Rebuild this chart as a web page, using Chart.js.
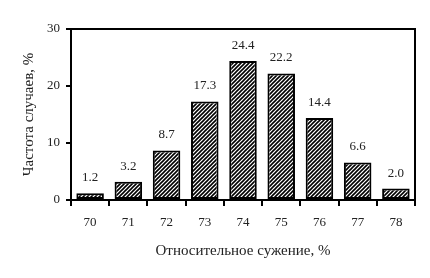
<!DOCTYPE html>
<html><head><meta charset="utf-8">
<script src="https://cdn.jsdelivr.net/npm/chart.js@4"></script>
<style>html,body{margin:0;padding:0;background:#fff}#w{width:430px;height:278px}</style>
</head><body><div id="w"><canvas id="c"></canvas></div>
<script>
const categories = ["70","71","72","73","74","75","76","77","78"];
const values = [1.2, 3.2, 8.7, 17.3, 24.4, 22.2, 14.4, 6.6, 2.0];
const yTicks = [0, 10, 20, 30];
const xTitle = "Относительное сужение, %";
const yTitle = "Частота случаев, %";

function hatch(){
  const s = 4, p = document.createElement('canvas');
  p.width = s; p.height = s;
  const g = p.getContext('2d');
  g.fillStyle = '#fff'; g.fillRect(0,0,s,s);
  g.strokeStyle = '#000'; g.lineWidth = 1.6;
  g.beginPath();
  g.moveTo(0,s); g.lineTo(s,0);
  g.moveTo(-1,1); g.lineTo(1,-1);
  g.moveTo(s-1,s+1); g.lineTo(s+1,s-1);
  g.stroke();
  return g.createPattern(p,'repeat');
}
const FONT = {family:"'Liberation Serif','Times New Roman',serif", size:13};
const TFONT = {family:"'Liberation Serif','Times New Roman',serif", size:15};
const TXT = '#222';

const framePlugin = {
  id:'frame',
  afterDatasetsDraw(chart){
    const {ctx, chartArea:a} = chart;
    ctx.save();
    ctx.strokeStyle='#000'; ctx.lineWidth=2;
    ctx.strokeRect(a.left, a.top, a.right-a.left, a.bottom-a.top);
    ctx.restore();
  }
};
const labelPlugin = {
  id:'vals',
  afterDatasetsDraw(chart){
    const {ctx} = chart;
    const meta = chart.getDatasetMeta(0);
    ctx.save();
    ctx.font = FONT.size+'px '+FONT.family;
    ctx.fillStyle = TXT; ctx.textAlign='center'; ctx.textBaseline='bottom';
    meta.data.forEach((el,i)=>{
      ctx.fillText(values[i].toFixed(1), el.x, el.y - 9);
    });
    ctx.restore();
  }
};

new Chart(document.getElementById('c'), {
  type:'bar',
  data:{labels:categories, datasets:[{data:values, backgroundColor:hatch(), borderColor:'#000', borderWidth:2, borderSkipped:false, categoryPercentage:0.72, barPercentage:1}]},
  options:{
    responsive:true, maintainAspectRatio:false, animation:false,
    layout:{padding:{top:29, right:15, left:8, bottom:18}},
    plugins:{legend:{display:false}, tooltip:{enabled:false}},
    scales:{
      x:{
        grid:{display:true, drawOnChartArea:false, offset:true, tickLength:6, color:'#000', lineWidth:2},
        border:{display:true, color:'#000', width:2},
        ticks:{font:FONT, color:TXT, padding:9},
        title:{display:true, text:xTitle, font:TFONT, color:TXT, padding:{top:4, bottom:0}},
        afterFit(s){ s.height = 60; }
      },
      y:{
        min:0, max:30,
        afterBuildTicks(s){ s.ticks = yTicks.map(v=>({value:v})); },
        grid:{display:true, drawOnChartArea:false, tickLength:5, color:'#000', lineWidth:2},
        border:{display:true, color:'#000', width:2},
        ticks:{font:FONT, color:TXT, padding:6},
        title:{display:true, text:yTitle, font:TFONT, color:TXT, padding:{top:12,bottom:0}},
        afterFit(s){ s.width = 63; }
      }
    }
  },
  plugins:[framePlugin, labelPlugin]
});
</script></body></html>
